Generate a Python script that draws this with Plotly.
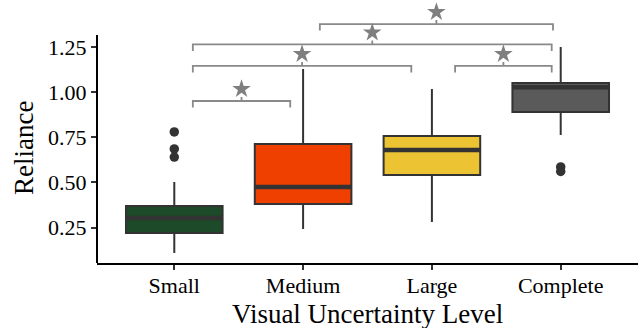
import plotly.graph_objects as go

# ---- data ----
categories = ["Small", "Medium", "Large", "Complete"]
positions = [1, 2, 3, 4]
q1 = [0.220, 0.380, 0.541, 0.889]
median = [0.303, 0.474, 0.679, 1.026]
q3 = [0.369, 0.712, 0.756, 1.050]
lower_whisker = [0.109, 0.242, 0.281, 0.762]
upper_whisker = [0.502, 1.127, 1.017, 1.249]
fill_colors = ["#1d4a29", "#ef4000", "#ecc333", "#5a5a5a"]

outlier_x = [1, 1, 1, 4, 4]
outlier_y = [0.779, 0.685, 0.640, 0.585, 0.560]

# significance brackets (start, end in category units, height)
bracket_x0 = [1.144, 1.144, 1.144, 2.13, 3.18]
bracket_x1 = [1.90, 2.84, 3.93, 3.94, 3.93]
bracket_y = [0.950, 1.144, 1.263, 1.376, 1.144]

y_ticks = [0.25, 0.50, 0.75, 1.00, 1.25]
y_tick_labels = ["0.25", "0.50", "0.75", "1.00", "1.25"]

# ---- style ----
FONT = "Liberation Serif"
BOX_W = 0.75
Y_RANGE = [0.0537, 1.509]
X_RANGE = [0.4, 4.6]
DROP = 0.036
STUB = 0.022
STAR_OFF = 0.066
BR_COLOR = "#898989"
OUTLINE = "#333333"

fig = go.Figure()

for i in range(len(categories)):
    fig.add_trace(go.Box(
        x=[positions[i]], q1=[q1[i]], median=[median[i]], q3=[q3[i]],
        lowerfence=[lower_whisker[i]], upperfence=[upper_whisker[i]],
        width=BOX_W, whiskerwidth=0, boxpoints=False,
        fillcolor=fill_colors[i], line=dict(color=OUTLINE, width=2),
        hoverinfo="skip", showlegend=False,
    ))
    # thicker median line
    fig.add_trace(go.Scatter(
        x=[positions[i] - BOX_W / 2, positions[i] + BOX_W / 2],
        y=[median[i], median[i]], mode="lines",
        line=dict(color=OUTLINE, width=4.5), hoverinfo="skip", showlegend=False,
    ))

fig.add_trace(go.Scatter(
    x=outlier_x, y=outlier_y, mode="markers",
    marker=dict(color=OUTLINE, size=9.5), hoverinfo="skip", showlegend=False,
))

# brackets
star_x, star_y = [], []
for x0, x1, y in zip(bracket_x0, bracket_x1, bracket_y):
    xc = (x0 + x1) / 2
    fig.add_trace(go.Scatter(
        x=[x0, x0, xc, xc, xc, x1, x1],
        y=[y - DROP, y, y, y + STUB, y, y, y - DROP],
        mode="lines", line=dict(color=BR_COLOR, width=1.8),
        hoverinfo="skip", showlegend=False,
    ))
    star_x.append(xc)
    star_y.append(y + STAR_OFF)

fig.add_trace(go.Scatter(
    x=star_x, y=star_y, mode="markers",
    marker=dict(symbol="star", color="#7f7f7f", size=14, line=dict(width=0)),
    hoverinfo="skip", showlegend=False, cliponaxis=False,
))

y_line_top = (1.315 - Y_RANGE[0]) / (Y_RANGE[1] - Y_RANGE[0])

fig.update_layout(
    width=641, height=328,
    margin=dict(l=97, r=3, t=0, b=65),
    paper_bgcolor="white", plot_bgcolor="white",
    font=dict(family=FONT, color="black"),
    xaxis=dict(
        range=X_RANGE, tickmode="array", tickvals=positions, ticktext=categories,
        showgrid=False, zeroline=False, showline=True, linecolor="black", linewidth=2,
        ticks="outside", ticklen=5, tickwidth=1.5, tickcolor=OUTLINE,
        ticklabelstandoff=-3,
        tickfont=dict(family=FONT, size=22, color="black"),
    ),
    yaxis=dict(
        range=Y_RANGE, tickmode="array", tickvals=y_ticks, ticktext=y_tick_labels,
        showgrid=False, zeroline=False, showline=False,
        ticks="outside", ticklen=5, tickwidth=1.5, tickcolor=OUTLINE,
        tickfont=dict(family=FONT, size=22, color="black"),
    ),
    shapes=[dict(type="line", xref="paper", yref="paper", x0=0, x1=0,
                 y0=0, y1=y_line_top, line=dict(color="black", width=2))],
    annotations=[
        dict(text="Visual Uncertainty Level", xref="paper", yref="paper",
             x=0.5, y=0, xanchor="center", yanchor="middle", yshift=-51,
             showarrow=False, font=dict(family=FONT, size=27, color="black")),
        dict(text="Reliance", xref="paper", yref="y", x=0, y=0.69,
             xanchor="center", yanchor="middle", xshift=-73, textangle=-90,
             showarrow=False, font=dict(family=FONT, size=27, color="black")),
    ],
)

fig.write_html(
    "out.html",
    config={"displayModeBar": False},
    post_script="document.body.style.margin='0px';document.body.style.overflow='hidden';",
)
